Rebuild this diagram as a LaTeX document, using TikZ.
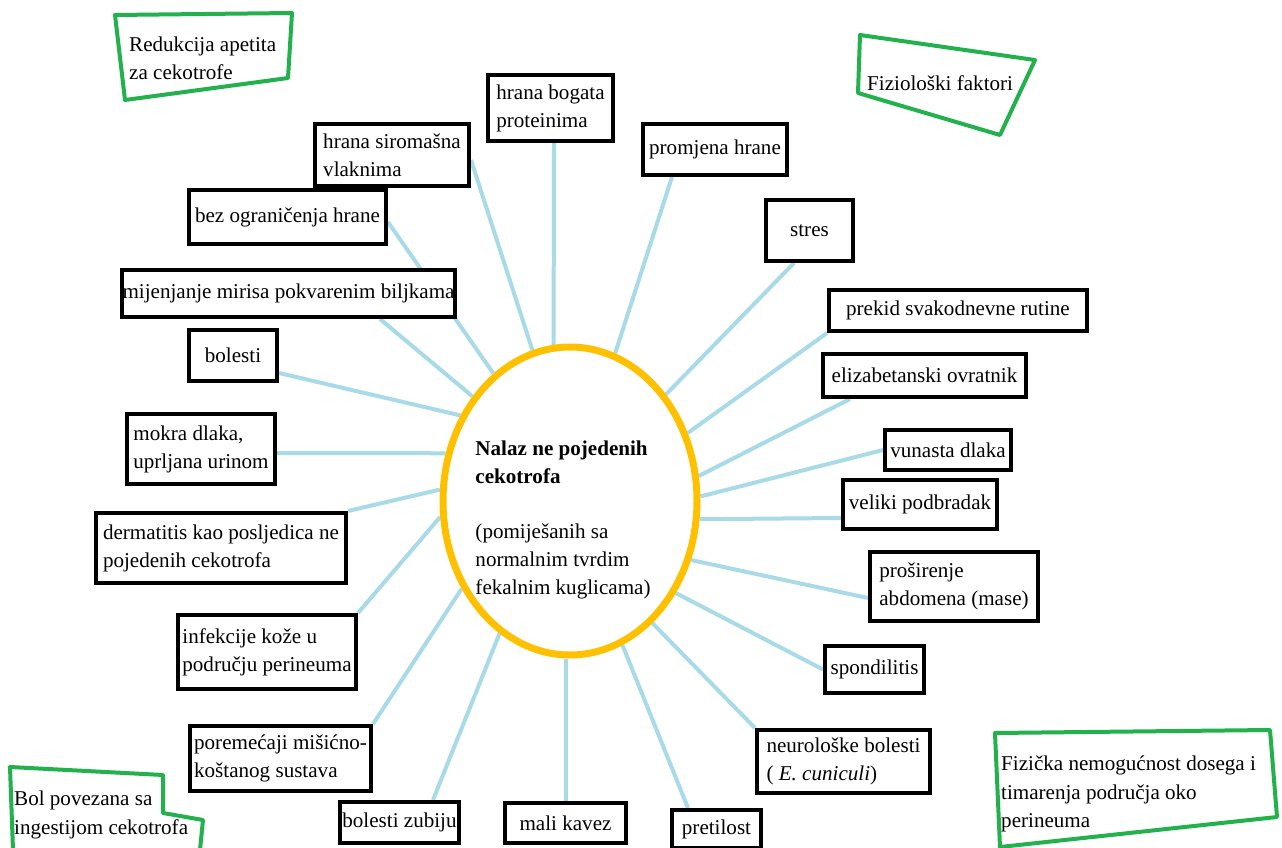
\documentclass[tikz,border=0pt]{standalone}
\usepackage{fontspec}
\setmainfont{Liberation Serif}
\usetikzlibrary{shapes.geometric}
\usetikzlibrary{backgrounds}
\definecolor{zuta}{RGB}{255,192,0}
\definecolor{plava}{RGB}{168,218,232}
\definecolor{zelena}{RGB}{34,177,76}
\newcommand{\pxu}{0.02cm}
\tikzset{faktor/.style 2 args={draw,fill=white,line width=4*\pxu,align=left,inner sep=0pt,
                               minimum width=#1*\pxu,minimum height=#2*\pxu},
         veza/.style={draw=plava,line width=4*\pxu},
         okvir/.style={draw=zelena,line width=4*\pxu,line join=round},
         oznaka/.style={align=left,anchor=west},
         }
\begin{document}
\begin{tikzpicture}[x=0.02cm,y=-0.02cm,font=\fontsize{12}{16}\selectfont]
		\useasboundingbox (0,0) rectangle (1282,848);
		% sredina
		\node[ellipse,draw=zuta,line width=7*\pxu,minimum width=254*\pxu,minimum height=308*\pxu,inner sep=0pt] (nalaz) at (570,501) {};
		\node[align=left] (nalaztxt) at (563,520) {\textbf{Nalaz ne pojedenih}\\\textbf{cekotrofa}\\[0.54cm](pomiješanih sa\\normalnim tvrdim\\fekalnim kuglicama)};
		% faktori
		\node[faktor={125}{66}] (hbp) at (550.5,108) {hrana bogata\\proteinima};
		\node[faktor={154}{62}] (hsv) at (392,155) {hrana siromašna\\vlaknima};
		\node[faktor={144}{51}] (ph) at (715,149.5) {promjena hrane};
		\node[faktor={197}{54}] (bez) at (287.5,217) {bez ograničenja hrane};
		\node[faktor={87}{61}] (st) at (809.5,230.5) {stres};
		\node[faktor={333}{47}] (mm) at (288.5,293.5) {mijenjanje mirisa pokvarenim biljkama};
		\node[faktor={258}{41}] (pr) at (958,310.5) {prekid svakodnevne rutine};
		\node[faktor={88}{51}] (bol) at (233,355.5) {bolesti};
		\node[faktor={203}{43}] (ez) at (924.5,375.5) {elizabetanski ovratnik};
		\node[faktor={148}{70}] (md) at (201,449) {mokra dlaka,\\uprljana urinom};
		\node[faktor={126}{40}] (vd) at (948,450) {vunasta dlaka};
		\node[faktor={154}{49}] (vp) at (920,504.5) {veliki podbradak};
		\node[faktor={250}{70}] (der) at (221,548) {dermatitis kao posljedica ne\\pojedenih cekotrofa};
		\node[faktor={168}{69}] (pro) at (954,586.5) {proširenje\\abdomena (mase)};
		\node[faktor={178}{74}] (inf) at (267,652) {infekcije kože u\\području perineuma};
		\node[faktor={99}{47}] (spo) at (874.5,669.5) {spondilitis};
		\node[faktor={181}{65}] (por) at (280.5,758.5) {poremećaji mišićno-\\koštanog sustava};
		\node[faktor={173}{63}] (neu) at (843.5,761.5) {neurološke bolesti\\( \textit{E. cuniculi})};
		\node[faktor={119}{41}] (bz) at (399.5,822.5) {bolesti zubiju};
		\node[faktor={121}{40}] (mk) at (565.5,823) {mali kavez};
		\node[faktor={89}{38}] (pret) at (716.5,829) {pretilost};
		% veze
		\begin{scope}[on background layer]
		\draw[veza] ([xshift=3.5*\pxu]hbp.south) -- (nalaz.96);
		\draw[veza] ([yshift=-5*\pxu]hsv.east) -- (nalaz.104);
		\draw[veza] ([yshift=-5*\pxu]bez.east) -- (nalaz.121);
		\draw[veza] ([xshift=91.5*\pxu]mm.south) -- (nalaz.133);
		\draw[veza] ([yshift=-17.5*\pxu]bol.east) -- (nalaz.142);
		\draw[veza] ([yshift=-4*\pxu]md.east) -- (nalaz.159);
		\draw[veza] (der.north east) -- (nalaz.175);
		\draw[veza] (inf.north east) -- (nalaz.187);
		\draw[veza] (por.north east) -- (nalaz.219);
		\draw[veza] ([xshift=33.5*\pxu]bz.north) -- (nalaz.242);
		\draw[veza] (mk.north) -- (mk.north |- nalaz.south);
		\draw[veza] ([xshift=18*\pxu]pret.north west) -- (nalaz.290);
		\draw[veza] (neu.north west) -- (nalaz.304);
		\draw[veza] (spo.west) -- (nalaz.319);
		\draw[veza] ([yshift=-11.5*\pxu]pro.west) -- (nalaz.334);
		\draw[veza] ([yshift=-13.5*\pxu]vp.west) -- (nalaz.352);
		\draw[veza] (vd.west) -- (nalaz.2);
		\draw[veza] ([xshift=29*\pxu]ez.south west) -- (nalaz.11);
		\draw[veza] (pr.south west) -- (nalaz.30);
		\draw[veza] ([xshift=-15.5*\pxu]st.south) -- (nalaz.48);
		\draw[veza] ([xshift=31*\pxu]ph.south west) -- (nalaz.73);
		\end{scope}
		% skupine
		\draw[okvir] (115,15) -- (292,13) -- (288,78) -- (125,100) -- cycle;
		\node[oznaka] (redukcija) at (123,58) {Redukcija apetita\\za cekotrofe};
		\draw[okvir] (860,35) -- (1035,60) -- (1000,135) -- (858,93) -- cycle;
		\node[oznaka] (fizioloski) at (861,83) {Fiziološki faktori};
		\draw[okvir] (995,733) -- (1270,730) -- (1277,817) -- (1000,847) -- cycle;
		\node[oznaka] (fizicka) at (995,794) {Fizička nemogućnost dosega i\\timarenja područja oko\\perineuma};
		\draw[okvir] (13,850) -- (10,767) -- (163,775) -- (163,813) -- (203,820) -- (200,850);
		\node[oznaka] (bolpov) at (8,815) {Bol povezana sa\\ingestijom cekotrofa};
\end{tikzpicture}
\end{document}
